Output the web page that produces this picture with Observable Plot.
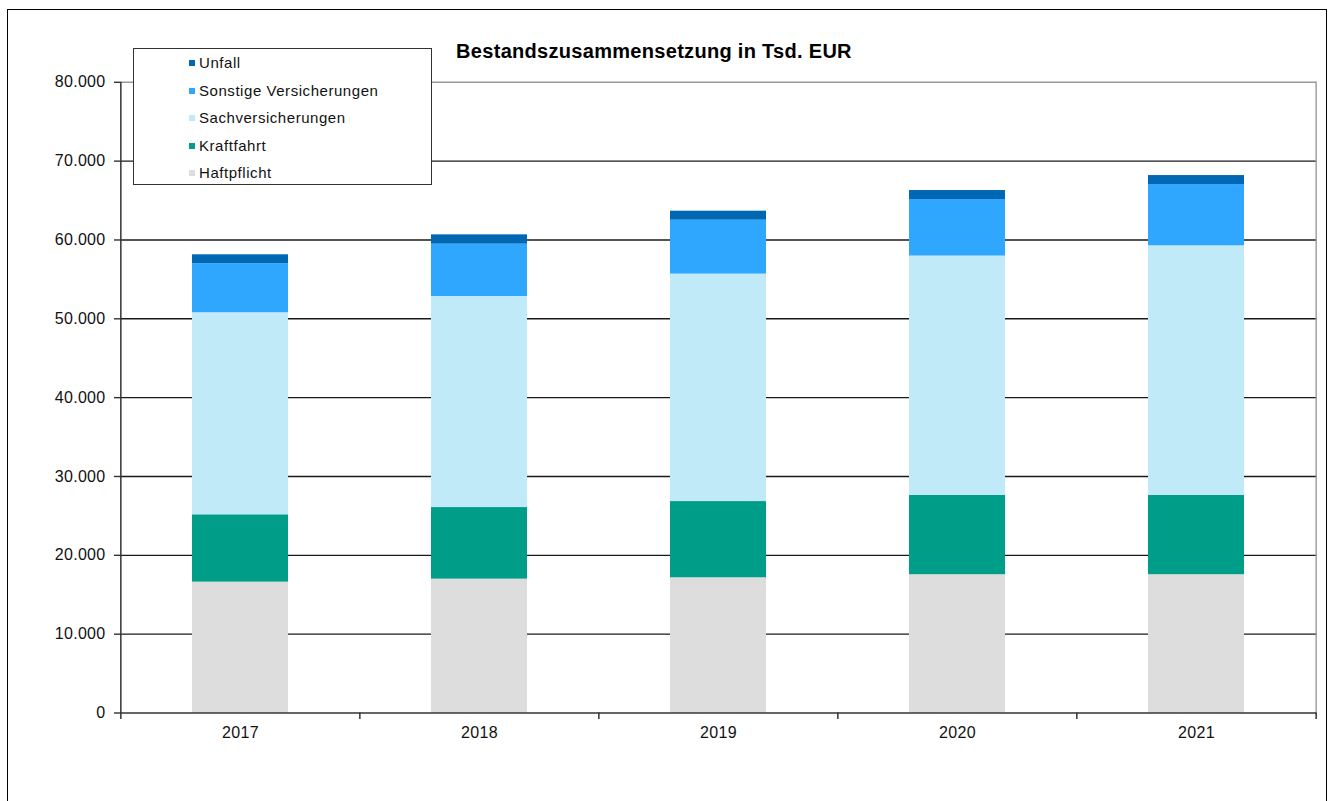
<!DOCTYPE html>
<html>
<head>
<meta charset="utf-8">
<script src="https://cdn.jsdelivr.net/npm/d3@7"></script>
<script src="https://cdn.jsdelivr.net/npm/@observablehq/plot@0.6"></script>
<style>
  html, body { margin: 0; padding: 0; background: #fff; }
  #page { position: relative; width: 1334px; height: 801px; overflow: hidden; font-family: "Liberation Sans", Arial, sans-serif; }
  #frame { position: absolute; left: 7px; top: 9px; width: 1320px; height: 820px; border: 1.6px solid #000; box-sizing: border-box; }
  #chart { position: absolute; left: 0; top: 0; }
  #chart svg text { letter-spacing: 0.3px; }
  #title { position: absolute; left: 354px; width: 600px; top: 41.4px; text-align: center; font-weight: bold; font-size: 20px; line-height: 20px; letter-spacing: 0.3px; color: #000; }
  #legend { position: absolute; left: 133px; top: 48px; width: 299px; height: 137px; box-sizing: border-box; border: 1.3px solid #333; background: #fff; }
  .item { position: absolute; left: 0; font-size: 15px; line-height: 15px; letter-spacing: 0.55px; color: #111; white-space: nowrap; }
  .sw { position: absolute; left: 55px; width: 6px; height: 6px; }
  .lbl { position: absolute; left: 65px; }
</style>
</head>
<body>
<div id="page">
  <div id="frame"></div>
  <div id="chart"></div>
  <div id="title">Bestandszusammensetzung in Tsd. EUR</div>
  <div id="legend"></div>
</div>
<script>
// ---- data ----
const years = ["2017", "2018", "2019", "2020", "2021"];
const series = ["Haftpflicht", "Kraftfahrt", "Sachversicherungen", "Sonstige Versicherungen", "Unfall"];
const haftpflicht = [16600, 16980, 17150, 17540, 17540];
const kraftfahrt  = [8540, 9080, 9670, 10050, 10050];
const sachversicherungen = [25630, 26770, 28850, 30370, 31670];
const sonstige = [6210, 6640, 6840, 7170, 7770];
const unfall = [1140, 1180, 1140, 1140, 1140];
const colors = ["#DDDDDD", "#009E88", "#C1EAF9", "#30A7FF", "#0067B3"];
const yTicks = [0, 10000, 20000, 30000, 40000, 50000, 60000, 70000, 80000];

const seriesValues = [haftpflicht, kraftfahrt, sachversicherungen, sonstige, unfall];
const data = [];
years.forEach((yr, i) => {
  series.forEach((s, j) => data.push({year: yr, series: s, value: seriesValues[j][i]}));
});

const de = d3.formatLocale({decimal: ",", thousands: ".", grouping: [3], currency: ["", " €"]});
const fmt = de.format(",");

const W = 1334, H = 801;
const mL = 120, mR = 17.5, mT = 81.8, mB = 88.5;
const step = (W - mL - mR) / years.length;
const plotH = H - mT - mB;

const chart = Plot.plot({
  width: W, height: H,
  marginLeft: mL, marginRight: mR, marginTop: mT, marginBottom: mB,
  style: {fontFamily: "'Liberation Sans', Arial, sans-serif", fontSize: "16px", color: "#111", background: "transparent"},
  x: {domain: years, paddingInner: 0.6, paddingOuter: 0.3, axis: null},
  y: {domain: [0, 80000], axis: null},
  color: {domain: series, range: colors},
  marks: [
    Plot.ruleY(yTicks.filter(d => d > 0 && d < 80000), {y: d => d, stroke: "#1a1a1a", strokeWidth: 1.4}),
    Plot.ruleY([80000], {stroke: "#9a9a9a", strokeWidth: 1.4}),
    Plot.ruleX([years[years.length - 1]], {dx: step / 2, stroke: "#9a9a9a", strokeWidth: 1.4}),
    Plot.barY(data, {x: "year", y: "value", fill: "series"}),
    // y axis line (with the first category tick)
    Plot.ruleX([years[0]], {dx: -step / 2, stroke: "#333", strokeWidth: 1.5, insetBottom: -6.5}),
    // category boundary ticks
    Plot.ruleX(years.slice(1), {dx: -step / 2, stroke: "#333", strokeWidth: 1.5, insetTop: plotH, insetBottom: -6.5}),
    Plot.ruleX([years[years.length - 1]], {dx: step / 2, stroke: "#333", strokeWidth: 1.5, insetTop: plotH, insetBottom: -6.5}),
    // x axis line
    Plot.ruleY([0], {stroke: "#333", strokeWidth: 1.6}),
    Plot.axisY({ticks: yTicks, tickFormat: fmt, tickSize: 6, tickPadding: 9, stroke: "#333", strokeWidth: 1.4, fill: "#111", fontSize: 16, label: null}),
    Plot.axisX({tickSize: 0, tickPadding: 14, fill: "#111", fontSize: 16, label: null})
  ]
});
document.getElementById("chart").appendChild(chart);

// ---- legend (top item = top of stack) ----
const legend = document.getElementById("legend");
const order = series.map((s, i) => i).reverse();
order.forEach((idx, k) => {
  const it = document.createElement("div");
  it.className = "item";
  it.style.top = (54 - 48 + k * 27.6) + "px";
  const sw = document.createElement("div");
  sw.className = "sw";
  sw.style.top = "5px";
  sw.style.background = colors[idx];
  const lb = document.createElement("div");
  lb.className = "lbl";
  lb.textContent = series[idx];
  it.appendChild(sw);
  it.appendChild(lb);
  legend.appendChild(it);
});
</script>
</body>
</html>
